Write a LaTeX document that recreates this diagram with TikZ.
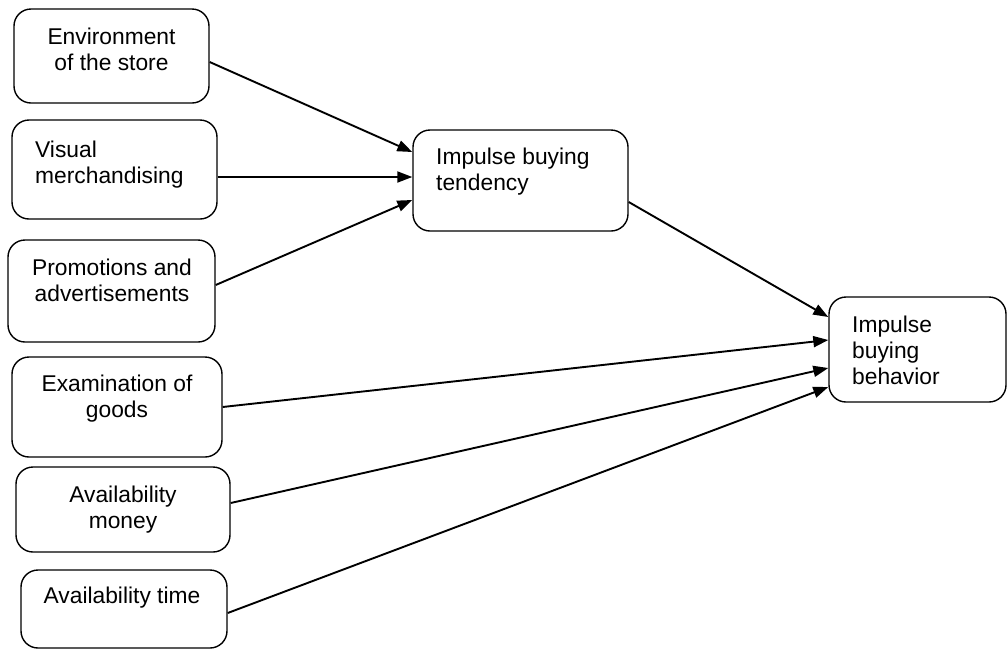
\documentclass[tikz,border=0pt]{standalone}
\usepackage{fontspec}
\setmainfont{Liberation Sans}
\usetikzlibrary{arrows.meta,calc}
\begin{document}
\begin{tikzpicture}[x=1pt,y=-1pt,
  box/.style={draw,line width=1.4pt,rounded corners=17pt,inner sep=0pt},
  txt/.style={inner sep=0pt,anchor=base,font=\fontsize{22.8}{25.8}\selectfont},
  txtl/.style={txt,anchor=base west,align=left},
  txtc/.style={txt,align=center},
  conn/.style={line width=1.9pt,-{Triangle[length=15pt,width=11pt]}}]
\useasboundingbox (0,0) rectangle (1007,649);
% boxes
\node[box,minimum width=195pt,minimum height=94pt] (env) at (111.5,56) {};
\node[box,minimum width=205pt,minimum height=99pt] (vis) at (114.5,169.5) {};
\node[box,minimum width=207pt,minimum height=102pt] (pro) at (111.5,291) {};
\node[box,minimum width=210pt,minimum height=100pt] (exa) at (117,407) {};
\node[box,minimum width=214pt,minimum height=85pt] (mon) at (123,509.5) {};
\node[box,minimum width=206pt,minimum height=78pt] (tim) at (124,609) {};
\node[box,minimum width=215pt,minimum height=101pt] (ten) at (520.5,180.5) {};
\node[box,minimum width=177pt,minimum height=105pt] (beh) at (917.5,349.5) {};
% texts (anchored at baseline of last line)
\node[txtc] (envt) at (111.5,70) {Environment\\of the store};
\node[txtl] (vist) at (35,183) {Visual\\merchandising};
\node[txtc] (prot) at (112,301) {Promotions and\\advertisements};
\node[txtc] (exat) at (117,417) {Examination of\\goods};
\node[txtc] (mont) at (123,528) {Availability\\money};
\node[txtc] (timt) at (122,603) {Availability time};
\node[txtl] (tent) at (436,190) {Impulse buying\\tendency};
\node[txtl] (beht) at (852,384) {Impulse\\buying\\behavior};
% connectors
\draw[conn] ($(env.east)+(0,6)$) -- ($(ten.west)+(0,-28.5)$);
\draw[conn] ($(vis.east)+(0,7.5)$) -- ($(ten.west)+(0,-3.5)$);
\draw[conn] ($(pro.east)+(0,-6)$) -- ($(ten.west)+(0,19.5)$);
\draw[conn] ($(ten.east)+(0,21.5)$) -- ($(beh.west)+(0,-32.5)$);
\draw[conn] ($(exa.east)+(0,0)$) -- ($(beh.west)+(0,-9.5)$);
\draw[conn] ($(mon.east)+(0,-6.5)$) -- ($(beh.west)+(0,18.5)$);
\draw[conn] ($(tim.east)+(0,4)$) -- ($(beh.west)+(0,37.5)$);
\end{tikzpicture}
\end{document}
